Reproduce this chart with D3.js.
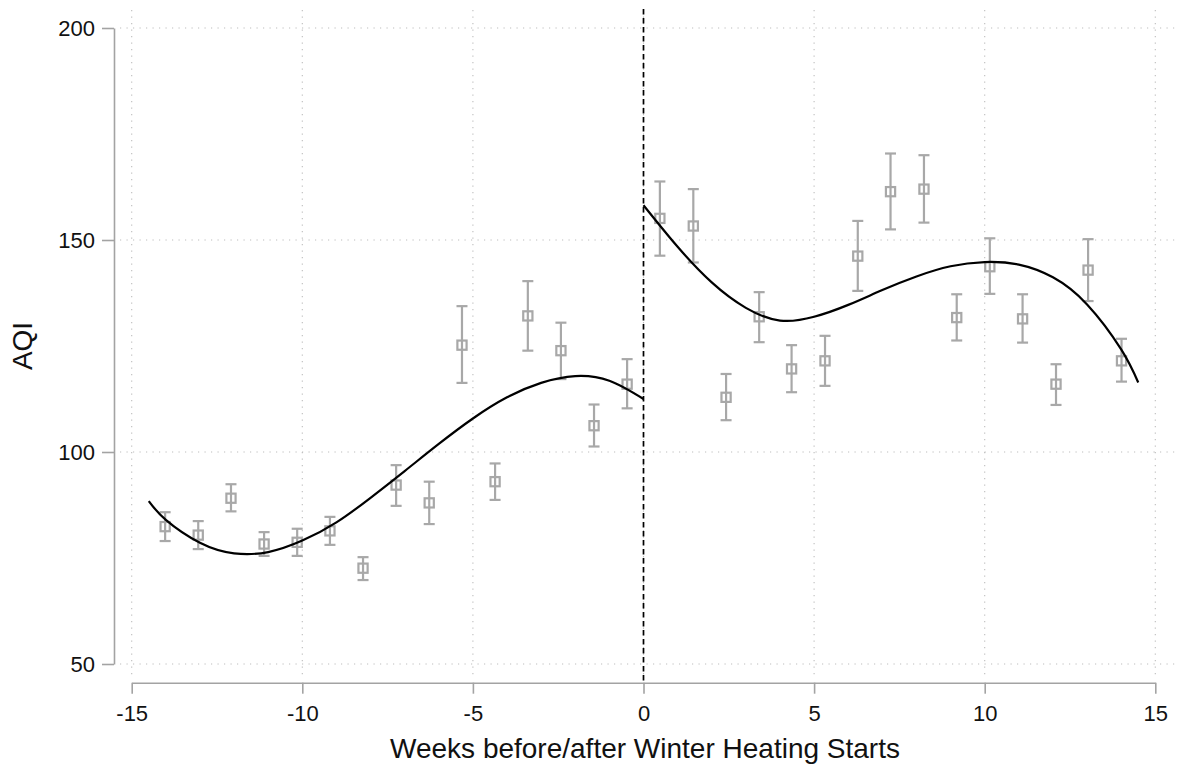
<!DOCTYPE html>
<html>
<head>
<meta charset="utf-8">
<script src="https://cdn.jsdelivr.net/npm/d3@7"></script>
<style>
  html, body { margin: 0; padding: 0; background: #fff; }
  svg { display: block; font-family: "Liberation Sans", Arial, sans-serif; }
</style>
</head>
<body>
<div id="chart"></div>
<script>
// binned weekly means with 95% CI
const weeks = [-14.02, -13.05, -12.09, -11.12, -10.15, -9.19, -8.22, -7.25, -6.28, -5.32, -4.35, -3.39, -2.42, -1.45, -0.48,
               0.48, 1.46, 2.42, 3.39, 4.34, 5.32, 6.28, 7.24, 8.22, 9.18, 10.15, 11.11, 12.09, 13.03, 14.01];
const aqiMean = [82.4, 80.4, 89.1, 78.3, 78.7, 81.4, 72.6, 92.2, 88.0, 125.2, 93.0, 132.1, 123.9, 106.2, 116.0,
                 155.1, 153.3, 112.9, 131.9, 119.6, 121.5, 146.2, 161.4, 162.0, 131.7, 143.7, 131.4, 116.0, 142.9, 121.5];
const aqiLow = [79.0, 77.1, 86.0, 75.5, 75.5, 78.1, 69.8, 87.3, 83.0, 116.3, 88.7, 123.9, 117.2, 101.3, 110.3,
                146.3, 144.7, 107.5, 125.9, 114.1, 115.6, 138.0, 152.5, 154.1, 126.3, 137.3, 125.8, 111.1, 135.6, 116.6];
const aqiHigh = [85.8, 83.7, 92.4, 81.1, 81.9, 84.7, 75.2, 96.9, 93.0, 134.4, 97.3, 140.3, 130.5, 111.2, 121.9,
                 163.8, 162.0, 118.4, 137.7, 125.2, 127.4, 154.5, 170.4, 170.0, 137.2, 150.4, 137.2, 120.7, 150.2, 126.7];

// fitted curve
const fitBeforeWeeks = [-14.5, -14, -13, -12, -11, -10, -9, -8, -7, -6, -5, -4, -3, -2, -1, 0];
const fitBeforeAqi = [88.4, 84.0, 78.6, 76.1, 76.4, 79.1, 83.4, 89.2, 95.5, 101.9, 107.9, 112.9, 116.3, 117.9, 116.8, 112.5];
const fitAfterWeeks = [0, 1, 2, 3, 4, 5, 6, 7, 8, 9, 10, 11, 12, 13, 14, 14.5];
const fitAfterAqi = [158.2, 148.4, 140.0, 134.0, 131.0, 131.9, 134.7, 138.2, 141.4, 143.8, 144.8, 144.2, 141.2, 134.8, 124.2, 116.4];

const xTicks = [-15, -10, -5, 0, 5, 10, 15];
const yTicks = [50, 100, 150, 200];

const width = 1179, height = 771;
const axisGray = '#a3a3a3', markGray = '#a8a8a8', gridGray = '#bdbdbd';

const svg = d3.select('#chart')
  .append('svg')
  .attr('width', width)
  .attr('height', height);

const x = d3.scaleLinear().domain([-15, 15]).range([131.7, 1155.3]);
const y = d3.scaleLinear().domain([50, 200]).range([664, 28]);

// grid
const grid = svg.append('g')
  .attr('stroke', gridGray)
  .attr('stroke-width', 1.1)
  .attr('stroke-dasharray', '1.2,5.3');

grid.selectAll('.hgrid')
  .data(yTicks)
  .enter()
  .append('line')
  .attr('x1', 120).attr('x2', 1176)
  .attr('y1', d => y(d)).attr('y2', d => y(d));

grid.selectAll('.vgrid')
  .data(xTicks)
  .enter()
  .append('line')
  .attr('x1', d => x(d)).attr('x2', d => x(d))
  .attr('y1', 10).attr('y2', 677);

// y axis
const yAxis = svg.append('g')
  .attr('transform', 'translate(114,0)')
  .call(d3.axisLeft(y).tickValues(yTicks).tickSize(12).tickSizeOuter(0).tickPadding(7));

// x axis
const xAxis = svg.append('g')
  .attr('transform', 'translate(0,682.7)')
  .call(d3.axisBottom(x).tickValues(xTicks).tickSize(11).tickSizeOuter(0).tickPadding(12)
    .tickFormat(d3.format('d')));

[yAxis, xAxis].forEach(ax => {
  ax.select('.domain').attr('stroke', axisGray).attr('stroke-width', 1.6);
  ax.selectAll('.tick line').attr('stroke', axisGray).attr('stroke-width', 1.6);
  ax.selectAll('.tick text')
    .attr('fill', '#111')
    .style('font-size', '22px')
    .style('font-family', '"Liberation Sans", Arial, sans-serif');
});
xAxis.selectAll('.tick text').text(d => d < 0 ? '-' + Math.abs(d) : d);

// axis titles
svg.append('text')
  .attr('x', 645)
  .attr('y', 758)
  .attr('text-anchor', 'middle')
  .attr('fill', '#111')
  .style('font-size', '28px')
  .text('Weeks before/after Winter Heating Starts');

svg.append('text')
  .attr('transform', 'translate(32,346) rotate(-90)')
  .attr('text-anchor', 'middle')
  .attr('fill', '#111')
  .style('font-size', '28px')
  .text('AQI');

// heating start line
svg.append('line')
  .attr('x1', x(0)).attr('x2', x(0))
  .attr('y1', 9).attr('y2', 682)
  .attr('stroke', '#000')
  .attr('stroke-width', 1.7)
  .attr('stroke-dasharray', '5.5,3.5');

// error bars + markers
const pts = weeks.map((w, i) => ({ w: w, m: aqiMean[i], lo: aqiLow[i], hi: aqiHigh[i] }));

const marks = svg.append('g')
  .attr('stroke', markGray)
  .attr('stroke-width', 2.2)
  .attr('fill', 'none');

const bars = marks.selectAll('g')
  .data(pts)
  .enter()
  .append('g');

bars.append('line')
  .attr('x1', d => x(d.w)).attr('x2', d => x(d.w))
  .attr('y1', d => y(d.lo)).attr('y2', d => y(d.hi));

bars.append('line')
  .attr('x1', d => x(d.w) - 5.5).attr('x2', d => x(d.w) + 5.5)
  .attr('y1', d => y(d.lo)).attr('y2', d => y(d.lo));

bars.append('line')
  .attr('x1', d => x(d.w) - 5.5).attr('x2', d => x(d.w) + 5.5)
  .attr('y1', d => y(d.hi)).attr('y2', d => y(d.hi));

bars.append('rect')
  .attr('x', d => x(d.w) - 4.6)
  .attr('y', d => y(d.m) - 4.6)
  .attr('width', 9.2)
  .attr('height', 9.2);

// fitted lines
const line = d3.line()
  .x(d => x(d[0]))
  .y(d => y(d[1]))
  .curve(d3.curveNatural);

[[fitBeforeWeeks, fitBeforeAqi], [fitAfterWeeks, fitAfterAqi]].forEach(([ws, vs]) => {
  svg.append('path')
    .datum(ws.map((w, i) => [w, vs[i]]))
    .attr('fill', 'none')
    .attr('stroke', '#000')
    .attr('stroke-width', 2.2)
    .attr('d', line);
});
</script>
</body>
</html>
